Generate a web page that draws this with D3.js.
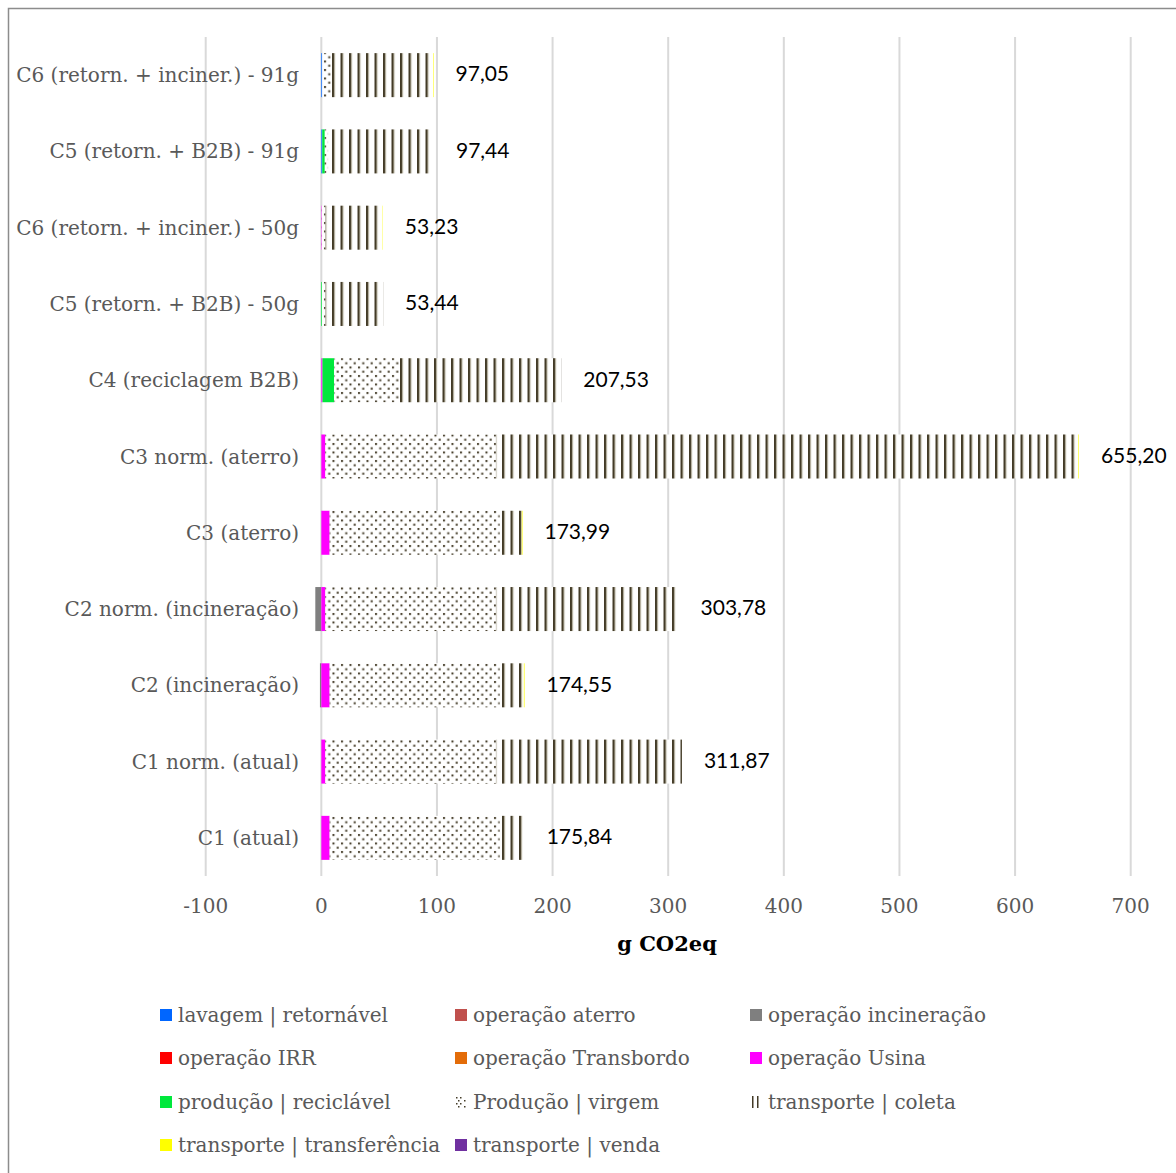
<!DOCTYPE html>
<html><head><meta charset="utf-8">
<script src="https://cdn.jsdelivr.net/npm/d3@7"></script>
<style>body{margin:0;background:#fff}svg{display:block}</style>
</head><body>
<svg id="chart" width="1176" height="1173"></svg>
<script>
// ---- data (top to bottom as displayed) ----
const categories = ["C6 (retorn. + inciner.) - 91g","C5 (retorn. + B2B) - 91g","C6 (retorn. + inciner.) - 50g","C5 (retorn. + B2B) - 50g","C4 (reciclagem B2B)","C3 norm. (aterro)","C3 (aterro)","C2 norm. (incineração)","C2 (incineração)","C1 norm. (atual)","C1 (atual)"];
const totals        = [97.05, 97.44, 53.23, 53.44, 207.53, 655.20, 173.99, 303.78, 174.55, 311.87, 175.84];
const lavagem       = [0.8, 0.8, 0, 0, 0, 0, 0, 0, 0, 0, 0];
const opAterro      = [0, 0, 0, 0, 0, 0, 0, 0, 0, 0, 0];
const opIncineracao = [0, 0, 0, 0, 0, 0, 0, -5.2, -1.2, 0, 0];
const opIRR         = [0, 0, 0, 0, 0, 0, 0, 0, 0, 0, 0];
const opTransbordo  = [0, 0, 0, 0, 0, 0, 0, 0, 0, 0, 0];
const opUsina       = [0, 0, 0.4, 0, 1, 3.5, 7.2, 3.5, 7.2, 3.5, 7.2];
const prodReciclavel= [0, 2.2, 0, 0.6, 10, 0, 0, 0, 0, 0, 0];
const prodVirgem    = [7.5, 3, 3.2, 3, 56.2, 147.5, 147.2, 147.5, 147.2, 147.5, 147.2];
const transColeta   = [88.3, 91.44, 49.33, 49.84, 140.33, 503.7, 19.0, 157.98, 20.75, 160.87, 21.44];
const transTransf   = [0.45, 0, 0.3, 0, 0, 0.5, 0.59, 0, 0.6, 0, 0];
const transVenda    = [0, 0, 0, 0, 0, 0, 0, 0, 0, 0, 0];
const seriesNames = ["lavagem | retornável","operação aterro","operação incineração","operação IRR","operação Transbordo","operação Usina","produção | reciclável","Produção | virgem","transporte | coleta","transporte | transferência","transporte | venda"];
const seriesValues = [lavagem, opAterro, opIncineracao, opIRR, opTransbordo, opUsina, prodReciclavel, prodVirgem, transColeta, transTransf, transVenda];
const xTicks = [-100, 0, 100, 200, 300, 400, 500, 600, 700];
const axisTitle = "g CO2eq";

// ---- styles ----
const fills = ["#0066ff","#c0504d","#7f7f7f","#ff0000","#e36c09","#ff00ff","#00e83c","url(#dots)","url(#vlines)","#ffff00","#7030a0"];
const serif = "'DejaVu Serif', 'Liberation Serif', serif";
const gray = "#595959";

const svg = d3.select("#chart");
const defs = svg.append("defs");
const dk = "#433b27";
const pv = defs.append("pattern").attr("id","vlines").attr("patternUnits","userSpaceOnUse")
  .attr("width",8.5).attr("height",10).attr("x",0.5);
pv.append("rect").attr("width",8.5).attr("height",10).attr("fill","#fff");
pv.append("rect").attr("x",0).attr("width",2).attr("height",10).attr("fill",dk);
pv.append("rect").attr("x",2).attr("width",1).attr("height",10).attr("fill","#a59f8a");
const pd = defs.append("pattern").attr("id","dots").attr("patternUnits","userSpaceOnUse")
  .attr("width",8.5).attr("height",8.5);
pd.append("rect").attr("width",8.5).attr("height",8.5).attr("fill","#fff");
pd.append("rect").attr("x",1).attr("y",1).attr("width",2).attr("height",2).attr("fill",dk);
pd.append("rect").attr("x",5.25).attr("y",5.25).attr("width",2).attr("height",2).attr("fill",dk);

// border
svg.append("rect").attr("x",8.5).attr("y",8.5).attr("width",1300).attr("height",1300)
  .attr("fill","none").attr("stroke","#8c8c8c").attr("stroke-width",1.5);

const x = d3.scaleLinear().domain([-100, 700]).range([205.7, 1130.7]);
const y = d3.scaleBand().domain(categories).range([37, 876]).paddingInner(0.423).paddingOuter(0.2115);

// gridlines
svg.append("g").selectAll("line").data(xTicks).join("line")
  .attr("x1", d => x(d)).attr("x2", d => x(d)).attr("y1", 37).attr("y2", 876)
  .attr("stroke", "#d9d9d9").attr("stroke-width", 2);

// stacked bars
const rows = categories.map((c, i) => {
  const o = {cat: c};
  seriesNames.forEach((s, j) => o[s] = seriesValues[j][i]);
  return o;
});
const stacked = d3.stack().keys(seriesNames).offset(d3.stackOffsetDiverging)(rows);
const gBars = svg.append("g");
stacked.forEach((layer, j) => {
  gBars.append("g").attr("fill", fills[j]).selectAll("rect")
    .data(layer.filter(d => d[1] !== d[0])).join("rect")
    .attr("x", d => x(Math.min(d[0], d[1])))
    .attr("width", d => Math.abs(x(d[1]) - x(d[0])))
    .attr("y", d => y(d.data.cat)).attr("height", y.bandwidth());
});

// data labels
const fmt = v => d3.format(".2f")(v).replace(".", ",");
const posSum = categories.map((c, i) => d3.sum(seriesValues, s => Math.max(0, s[i])));
svg.append("g").selectAll("text").data(categories).join("text")
  .attr("x", (c, i) => x(posSum[i]) + 22)
  .attr("y", c => y(c) + y.bandwidth() / 2)
  .attr("dy", "0.3em")
  .attr("font-family", "Lato, 'Open Sans', sans-serif").attr("font-size", 21).attr("fill", "#000")
  .text((c, i) => fmt(totals[i]));

// category labels
svg.append("g").selectAll("text").data(categories).join("text")
  .attr("x", 299).attr("y", c => y(c) + y.bandwidth() / 2).attr("dy", "0.35em")
  .attr("text-anchor", "end").attr("font-family", serif).attr("font-size", 20).attr("fill", gray)
  .text(c => c);

// x tick labels
svg.append("g").selectAll("text").data(xTicks).join("text")
  .attr("x", d => x(d)).attr("y", 906).attr("dy", "0.35em").attr("text-anchor", "middle")
  .attr("font-family", serif).attr("font-size", 20).attr("fill", gray)
  .text(d => d);

// axis title
svg.append("text").attr("x", 667).attr("y", 944).attr("dy", "0.35em").attr("text-anchor", "middle")
  .attr("font-family", serif).attr("font-size", 21).attr("font-weight", "bold").attr("fill", "#000")
  .text(axisTitle);

// legend
const colX = [160, 455, 750];
const rowY = [1015, 1058, 1102, 1145];
const lg = svg.append("g");
seriesNames.forEach((s, j) => {
  const cx = colX[j % 3], cy = rowY[Math.floor(j / 3)];
  const g = lg.append("g").attr("transform", `translate(${cx},${cy})`);
  if (j === 7) {
    [[1,-5],[5,-5],[3,-2],[1,1],[5,1],[3,4],[9,-2],[9,4]].forEach(p => g.append("rect").attr("x",p[0]).attr("y",p[1]).attr("width",1.5).attr("height",1.5).attr("fill",dk));
  } else if (j === 8) {
    g.append("rect").attr("x",2).attr("y",-6).attr("width",1.5).attr("height",12).attr("fill",dk);
    g.append("rect").attr("x",7).attr("y",-6).attr("width",1.5).attr("height",12).attr("fill",dk);
  } else {
    g.append("rect").attr("x",0).attr("y",-6).attr("width",12).attr("height",12).attr("fill",fills[j]);
  }
  g.append("text").attr("x", 18).attr("y", 0).attr("dy", "0.35em")
    .attr("font-family", serif).attr("font-size", 20).attr("fill", gray).text(s);
});
</script>
</body></html>
